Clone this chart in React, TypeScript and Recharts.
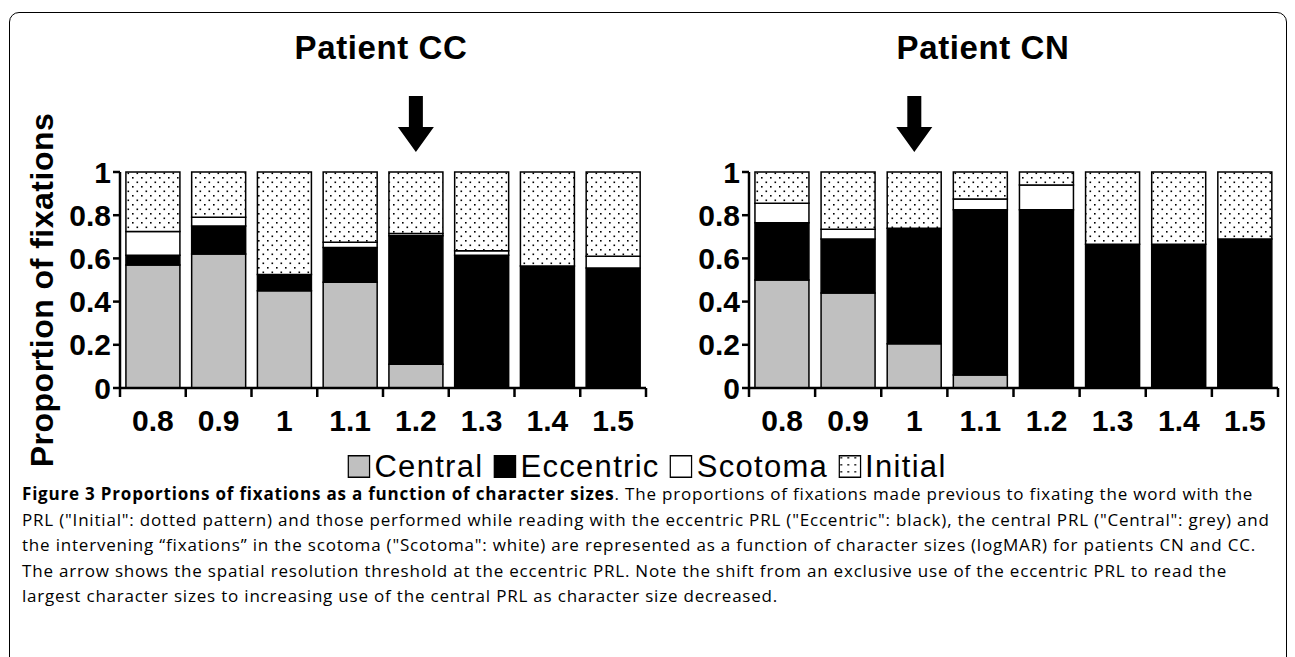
import React from 'react';
import { BarChart, Bar, XAxis, YAxis, ReferenceDot } from 'recharts';

const categories = ['0.8', '0.9', '1', '1.1', '1.2', '1.3', '1.4', '1.5'];
const seriesNames = ['Central', 'Eccentric', 'Scotoma', 'Initial'];

// Patient CC
const ccCentral = [0.57, 0.62, 0.45, 0.49, 0.11, 0, 0, 0];
const ccEccentric = [0.045, 0.13, 0.075, 0.16, 0.595, 0.615, 0.565, 0.555];
const ccScotoma = [0.11, 0.04, 0, 0.025, 0.01, 0.02, 0, 0.055];
const ccInitial = [0.275, 0.21, 0.475, 0.325, 0.285, 0.365, 0.435, 0.39];

// Patient CN
const cnCentral = [0.5, 0.44, 0.205, 0.06, 0, 0, 0, 0];
const cnEccentric = [0.265, 0.25, 0.535, 0.765, 0.825, 0.665, 0.665, 0.69];
const cnScotoma = [0.09, 0.045, 0, 0.05, 0.115, 0, 0, 0];
const cnInitial = [0.145, 0.265, 0.26, 0.125, 0.06, 0.335, 0.335, 0.31];

const yTicks = [0, 0.2, 0.4, 0.6, 0.8, 1];
const yTickLabels = ['0', '0.2', '0.4', '0.6', '0.8', '1'];

const ccArrowAt = '1.2';
const cnArrowAt = '1';

const build = (c: number[], e: number[], s: number[], i: number[]) =>
  categories.map((cat, k) => ({ cat, Central: c[k], Eccentric: e[k], Scotoma: s[k], Initial: i[k] }));

const ccData = build(ccCentral, ccEccentric, ccScotoma, ccInitial);
const cnData = build(cnCentral, cnEccentric, cnScotoma, cnInitial);

const FONT = '"Liberation Sans", Arial, Helvetica, sans-serif';
const fills: Record<string, string> = {
  Central: '#c0c0c0',
  Eccentric: '#000000',
  Scotoma: '#ffffff',
};

const XTick = (props: any) => {
  const { x, y, payload, index } = props;
  const off = payload && typeof payload.offset === 'number' && payload.offset > 0 ? payload.offset : 32.9;
  return (
    <g>
      <line x1={x - off} x2={x - off} y1={y} y2={y + 9} stroke="#000" strokeWidth={2.5} />
      {index === categories.length - 1 && (
        <line x1={x + off} x2={x + off} y1={y} y2={y + 9} stroke="#000" strokeWidth={2.5} />
      )}
      <text x={x} y={y + 43} textAnchor="middle" fontFamily={FONT} fontWeight="bold" fontSize={30} fill="#000">
        {payload.value}
      </text>
    </g>
  );
};

const Arrow = (props: any) => {
  const { cx, cy } = props;
  if (cx == null || cy == null) return null;
  const tip = cy - 20;
  const head = tip - 25;
  const top = tip - 56;
  const d = `M${cx - 7},${top} L${cx + 7},${top} L${cx + 7},${head} L${cx + 18},${head} L${cx},${tip} L${cx - 18},${head} L${cx - 7},${head} Z`;
  return <path d={d} fill="#000" />;
};

function Panel({ data, arrowAt, pid, rightMargin }: { data: any[]; arrowAt: string; pid: string; rightMargin: number }) {
  return (
    <BarChart
      width={660}
      height={450}
      data={data}
      margin={{ top: 172, right: rightMargin, left: 60, bottom: 22 }}
      barCategoryGap="9%"
    >
      <defs>
        <pattern id={pid} x="0" y="0" width="9" height="9" patternUnits="userSpaceOnUse">
          <rect x="0" y="0" width="9" height="9" fill="#fff" />
          <rect x="1.5" y="1.5" width="1.6" height="1.6" fill="#000" />
          <rect x="6" y="6" width="1.6" height="1.6" fill="#000" />
        </pattern>
      </defs>
      <XAxis
        dataKey="cat"
        type="category"
        interval={0}
        height={40}
        axisLine={{ stroke: '#000', strokeWidth: 2.5 }}
        tickLine={false}
        tickSize={0}
        tickMargin={0}
        tick={<XTick />}
      />
      <YAxis
        type="number"
        domain={[0, 1]}
        ticks={yTicks}
        interval={0}
        width={60}
        tickFormatter={(v: number) => yTickLabels[yTicks.indexOf(v)]}
        axisLine={{ stroke: '#000', strokeWidth: 2.5 }}
        tickLine={{ stroke: '#000', strokeWidth: 2.5 }}
        tickSize={7}
        tickMargin={2}
        tick={{ fontFamily: FONT, fontWeight: 'bold', fontSize: 30, fill: '#000' }}
      />
      {seriesNames.map((name) => (
        <Bar
          key={name}
          dataKey={name}
          stackId="s"
          fill={name === 'Initial' ? `url(#${pid})` : fills[name]}
          stroke="#000"
          strokeWidth={1.5}
          isAnimationActive={false}
        />
      ))}
      <ReferenceDot x={arrowAt} y={1} r={0} ifOverflow="visible" shape={Arrow} />
    </BarChart>
  );
}

const LegendBox = ({ name }: { name: string }) => (
  <svg width={23} height={23} style={{ display: 'block' }}>
    <defs>
      <pattern id="legpat" x="0" y="0" width="7" height="7" patternUnits="userSpaceOnUse">
        <rect x="0" y="0" width="7" height="7" fill="#fff" />
        <rect x="2" y="2" width="1.6" height="1.6" fill="#000" />
      </pattern>
    </defs>
    <rect x={0.75} y={0.75} width={21.5} height={21.5} fill={name === 'Initial' ? 'url(#legpat)' : fills[name]} stroke="#000" strokeWidth={1.5} />
  </svg>
);

const captionLines = [
  'PRL ("Initial": dotted pattern) and those performed while reading with the eccentric PRL ("Eccentric": black), the central PRL ("Central": grey) and',
  'the intervening \u201cfixations\u201d in the scotoma ("Scotoma": white) are represented as a function of character sizes (logMAR) for patients CN and CC.',
  'The arrow shows the spatial resolution threshold at the eccentric PRL. Note the shift from an exclusive use of the eccentric PRL to read the',
  'largest character sizes to increasing use of the central PRL as character size decreased.',
];

export default function App() {
  return (
    <div style={{ position: 'relative', width: 1295, height: 657, overflow: 'hidden', background: '#fff' }}>
      <style>{'body{margin:0;}'}</style>
      <div
        style={{
          position: 'absolute',
          left: 9,
          top: 12,
          width: 1278,
          height: 700,
          border: '1.5px solid #000',
          borderRadius: 10,
          boxSizing: 'border-box',
        }}
      />
      <div style={{ position: 'absolute', left: 381, top: 29, transform: 'translateX(-50%)', fontFamily: FONT, fontWeight: 'bold', fontSize: 33, whiteSpace: 'nowrap', letterSpacing: 0.6 }}>
        Patient CC
      </div>
      <div style={{ position: 'absolute', left: 983, top: 29, transform: 'translateX(-50%)', fontFamily: FONT, fontWeight: 'bold', fontSize: 33, whiteSpace: 'nowrap', letterSpacing: 0.6 }}>
        Patient CN
      </div>
      <div
        style={{
          position: 'absolute',
          left: 42,
          top: 290,
          transform: 'translate(-50%, -50%) rotate(-90deg)',
          fontFamily: FONT,
          fontWeight: 'bold',
          fontSize: 32,
          whiteSpace: 'nowrap',
          letterSpacing: 0.5,
        }}
      >
        Proportion of fixations
      </div>
      <div style={{ position: 'absolute', left: 0, top: 0 }}>
        <Panel data={ccData} arrowAt={ccArrowAt} pid="dotsCC" rightMargin={14} />
      </div>
      <div style={{ position: 'absolute', left: 629, top: 0 }}>
        <Panel data={cnData} arrowAt={cnArrowAt} pid="dotsCN" rightMargin={11} />
      </div>
      <div
        style={{
          position: 'absolute',
          left: 647,
          top: 452,
          transform: 'translateX(-50%)',
          display: 'flex',
          alignItems: 'center',
          gap: 10,
          fontFamily: FONT,
          fontSize: 31,
          lineHeight: '29px',
          letterSpacing: 1.3,
          whiteSpace: 'nowrap',
        }}
      >
        {seriesNames.map((n) => (
          <div key={n} style={{ display: 'flex', alignItems: 'center', gap: 4 }}>
            <LegendBox name={n} />
            <span>{n}</span>
          </div>
        ))}
      </div>
      <div
        style={{
          position: 'absolute',
          left: 22,
          top: 481,
          fontFamily: '"Open Sans", "Noto Sans", sans-serif',
          fontSize: 17,
          lineHeight: '25.6px',
          letterSpacing: 0.8,
          whiteSpace: 'nowrap',
          color: '#000',
        }}
      >
        <div>
          <b>Figure 3 Proportions of fixations as a function of character sizes</b>. The proportions of fixations made previous to fixating the word with the
        </div>
        {captionLines.map((l, i) => (
          <div key={i}>{l}</div>
        ))}
      </div>
    </div>
  );
}
